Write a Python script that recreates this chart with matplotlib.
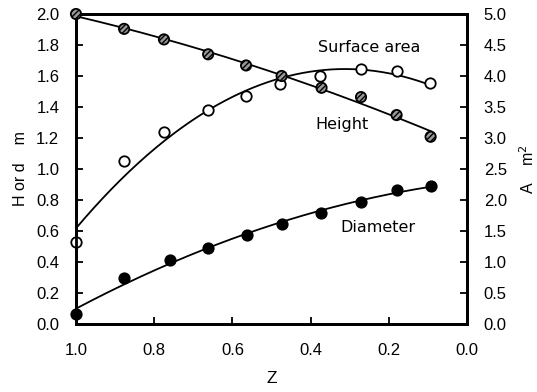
import numpy as np
import matplotlib
matplotlib.use('Agg')
import matplotlib.pyplot as plt

plt.rcParams['font.family'] = ['Liberation Sans', 'DejaVu Sans']

# surface area A (m^2), right axis
z_area = [1.0, 0.877, 0.775, 0.662, 0.565, 0.474, 0.372, 0.271, 0.18, 0.093]
area = [5.0, 4.76, 4.59, 4.35, 4.17, 4.0, 3.81, 3.66, 3.37, 3.02]

# height H (m), left axis
z_height = [1.0, 0.877, 0.775, 0.662, 0.565, 0.477, 0.376, 0.271, 0.18, 0.095]
height = [0.527, 1.054, 1.237, 1.381, 1.471, 1.546, 1.602, 1.645, 1.63, 1.553]

# diameter d (m), left axis
z_diam = [1.0, 0.876, 0.76, 0.662, 0.563, 0.474, 0.374, 0.271, 0.18, 0.092]
diam = [0.062, 0.299, 0.411, 0.492, 0.576, 0.643, 0.714, 0.789, 0.865, 0.89]

fig = plt.figure(figsize=(5.37, 3.92), dpi=100)
ax = fig.add_axes([0.1415, 0.1735, 0.7281, 0.7908])
ax2 = ax.twinx()

zz = np.linspace(1.0, 0.09, 200)

# fitted curves
p_h = np.polyfit(z_height, height, 2)
ax.plot(zz, np.polyval(p_h, zz), color='black', lw=1.3, zorder=2)
p_d = np.polyfit(z_diam, diam, 2)
ax.plot(zz, np.polyval(p_d, zz), color='black', lw=1.3, zorder=2)
p_a = np.polyfit(z_area, area, 2)
ax2.plot(zz, np.polyval(p_a, zz), color='black', lw=1.3, zorder=2)

ax.plot(z_height, height, 'o', ms=7.5, mfc='white', mec='black', mew=1.3,
        zorder=3, clip_on=False)
ax.plot(z_diam, diam, 'o', ms=7.5, mfc='black', mec='black', mew=1.3,
        zorder=3, clip_on=False)
ax2.scatter(z_area, area, s=55, facecolor='#999999', edgecolor='black',
            hatch='//////', linewidth=1.3, zorder=3, clip_on=False)

ax.set_xlim(1.0, 0.0)
ax.set_ylim(0, 2.0)
ax2.set_ylim(0, 5.0)
ax.set_xticks(np.arange(0, 1.01, 0.2))
ax.set_yticks(np.arange(0, 2.01, 0.2))
ax2.set_yticks(np.arange(0, 5.01, 0.5))
ax.xaxis.set_major_formatter(matplotlib.ticker.FormatStrFormatter('%.1f'))
ax.yaxis.set_major_formatter(matplotlib.ticker.FormatStrFormatter('%.1f'))
ax2.yaxis.set_major_formatter(matplotlib.ticker.FormatStrFormatter('%.1f'))

ax.tick_params(axis='x', direction='in', length=5, width=1.3, pad=14, labelsize=12)
ax.tick_params(axis='y', direction='in', length=5, width=1.3, pad=12, labelsize=12)
ax2.tick_params(axis='y', direction='in', length=5, width=1.3, pad=12, labelsize=12)

for a in (ax, ax2):
    for s in a.spines.values():
        s.set_linewidth(2)

ax.set_xlabel('Z', fontsize=12.5, labelpad=9)
ax.set_ylabel('H or d    m', fontsize=11.5, labelpad=6)
ax2.set_ylabel('A    m$^2$', fontsize=11.5, labelpad=8)

ax.text(0.381, 1.787, 'Surface area', fontsize=11.5, va='center', ha='left',
        family='DejaVu Sans')
ax.text(0.389, 1.29, 'Height', fontsize=11.5, va='center', ha='left',
        family='DejaVu Sans')
ax.text(0.325, 0.62, 'Diameter', fontsize=11.5, va='center', ha='left',
        family='DejaVu Sans')

fig.savefig('out.png', dpi=100)
